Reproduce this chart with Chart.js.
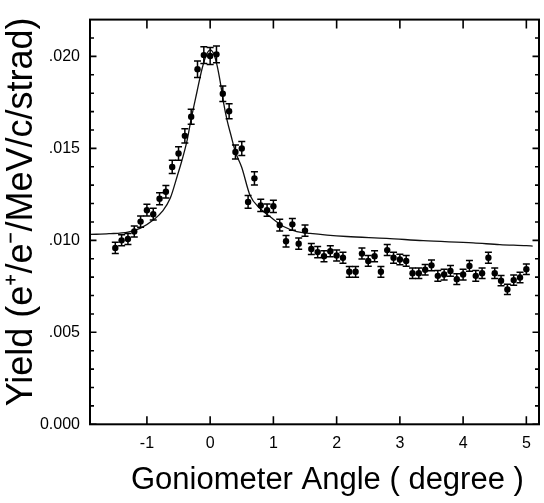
<!DOCTYPE html>
<html>
<head>
<meta charset="utf-8">
<script src="https://cdn.jsdelivr.net/npm/chart.js@4/dist/chart.umd.min.js"></script>
<style>
html,body{margin:0;padding:0;background:#fff;}
#wrap{width:544px;height:503px;position:relative;}
</style>
</head>
<body>
<div id="wrap"><canvas id="c"></canvas></div>
<script>
// Measured data points (goniometer angle in degrees, yield)
const angles = [-1.5,-1.4,-1.3,-1.2,-1.1,-1.0,-0.9,-0.8,-0.7,-0.6,-0.5,-0.4,-0.3,-0.2,-0.1,0.0,0.1,0.2,0.3,0.4,0.5,
  0.6,0.7,0.8,0.9,1.0,1.1,1.2,1.3,1.4,1.5,1.6,1.7,1.8,1.9,2.0,2.1,2.2,2.3,2.4,2.5,2.6,2.7,2.8,2.9,
  3.0,3.1,3.2,3.3,3.4,3.5,3.6,3.7,3.8,3.9,4.0,4.1,4.2,4.3,4.4,4.5,4.6,4.7,4.8,4.9,5.0];
const yields = [0.00959,0.01000,0.01007,0.01048,0.01102,0.01164,0.01142,0.01226,0.01264,0.01399,0.01472,0.01568,0.01672,0.01930,0.02007,0.02002,0.02011,0.01797,0.01702,0.01480,0.01499,
  0.01209,0.01337,0.01190,0.01164,0.01185,0.01083,0.00995,0.01087,0.00982,0.01053,0.00953,0.00936,0.00914,0.00941,0.00918,0.00905,0.00829,0.00829,0.00928,0.00888,0.00914,0.00829,0.00947,0.00905,
  0.00896,0.00888,0.00821,0.00821,0.00840,0.00864,0.00807,0.00814,0.00834,0.00789,0.00814,0.00861,0.00807,0.00821,0.00905,0.00821,0.00781,0.00733,0.00784,0.00798,0.00843];
const yieldErr = [0.00030,0.00030,0.00030,0.00030,0.00031,0.00032,0.00032,0.00033,0.00034,0.00036,0.00037,0.00039,0.00041,0.00045,0.00046,0.00046,0.00046,0.00042,0.00041,0.00038,0.00038,
  0.00035,0.00036,0.00033,0.00033,0.00033,0.00032,0.00031,0.00032,0.00031,0.00031,0.00030,0.00030,0.00030,0.00030,0.00030,0.00030,0.00029,0.00029,0.00030,0.00029,0.00030,0.00029,0.00030,0.00030,
  0.00029,0.00029,0.00029,0.00029,0.00029,0.00029,0.00029,0.00029,0.00029,0.00029,0.00029,0.00029,0.00029,0.00029,0.00030,0.00029,0.00028,0.00028,0.00028,0.00028,0.00029];

// Fitted curve
const fitAngles = [-1.9,-1.6,-1.3,-1.1,-0.9,-0.75,-0.63,-0.52,-0.45,-0.37,-0.3,-0.21,-0.13,-0.07,0.0,0.06,0.11,0.16,0.21,0.27,0.33,0.4,0.5,0.63,0.79,0.95,1.16,1.37,1.58,2.16,2.79,3.37,4.16,4.58,5.0,5.1];
const fitYields = [0.01032,0.01036,0.01045,0.01066,0.01110,0.01160,0.01230,0.01350,0.01430,0.01535,0.01660,0.01805,0.01930,0.02000,0.02035,0.02010,0.01950,0.01860,0.01752,0.01650,0.01570,0.01480,0.01396,0.01245,0.01173,0.01128,0.01075,0.01048,0.01038,0.01021,0.01011,0.00998,0.00986,0.00977,0.00971,0.00969];

// Axis ticks
const xTickValues = [-1,0,1,2,3,4,5];
const xTickLabels = ['-1','0','1','2','3','4','5'];
const yTickValues = [0,0.005,0.010,0.015,0.020];
const yTickLabels = ['0.000','.005','.010','.015','.020'];

const X_MIN = -1.9, X_MAX = 5.2, Y_MIN = 0, Y_MAX = 0.022;

const errorBars = {
  id: 'errorBars',
  afterDatasetsDraw(chart) {
    const {ctx, scales: {x, y}} = chart;
    ctx.save();
    ctx.strokeStyle = '#000';
    ctx.lineWidth = 1.5;
    for (let i = 0; i < angles.length; i++) {
      const px = x.getPixelForValue(angles[i]);
      const top = y.getPixelForValue(yields[i] + yieldErr[i]);
      const bot = y.getPixelForValue(yields[i] - yieldErr[i]);
      ctx.beginPath();
      ctx.moveTo(px, top); ctx.lineTo(px, bot);
      ctx.moveTo(px - 3.5, top); ctx.lineTo(px + 3.5, top);
      ctx.moveTo(px - 3.5, bot); ctx.lineTo(px + 3.5, bot);
      ctx.stroke();
    }
    ctx.restore();
  }
};

const frame = {
  id: 'frame',
  afterDraw(chart) {
    const {ctx, chartArea: a, scales: {x, y}} = chart;
    ctx.save();
    ctx.strokeStyle = '#000';
    ctx.lineWidth = 1.6;
    ctx.beginPath();
    xTickValues.forEach(v => {
      const px = x.getPixelForValue(v);
      ctx.moveTo(px, a.bottom); ctx.lineTo(px, a.bottom - 8);
      ctx.moveTo(px, a.top); ctx.lineTo(px, a.top + 9);
    });
    for (let k = 0; k <= 21; k++) {
      const v = k / 1000;
      const major = k % 5 === 0;
      const len = major ? 6.5 : 4;
      const py = y.getPixelForValue(v);
      ctx.moveTo(a.left, py); ctx.lineTo(a.left + len, py);
      ctx.moveTo(a.right, py); ctx.lineTo(a.right - len, py);
    }
    ctx.stroke();
    ctx.lineWidth = 2;
    ctx.strokeRect(a.left, a.top, a.right - a.left, a.bottom - a.top);
    ctx.restore();
  }
};

new Chart(document.getElementById('c'), {
  type: 'scatter',
  data: {
    datasets: [
      {
        label: 'data',
        data: angles.map((a, i) => ({x: a, y: yields[i]})),
        pointRadius: 3.2,
        pointBackgroundColor: '#000',
        pointBorderColor: '#000',
        pointBorderWidth: 0,
        showLine: false
      },
      {
        label: 'fit',
        type: 'line',
        data: fitAngles.map((a, i) => ({x: a, y: fitYields[i]})),
        borderColor: '#111',
        borderWidth: 1.3,
        pointRadius: 0,
        fill: false,
        cubicInterpolationMode: 'monotone'
      }
    ]
  },
  options: {
    responsive: true,
    maintainAspectRatio: false,
    animation: false,
    devicePixelRatio: 1,
    layout: {padding: {left: 0, right: 5, top: 12.7, bottom: 0}},
    plugins: {legend: {display: false}, tooltip: {enabled: false}},
    scales: {
      x: {
        type: 'linear',
        min: X_MIN, max: X_MAX,
        grid: {display: false, drawTicks: false},
        border: {display: false},
        afterBuildTicks: s => { s.ticks = xTickValues.map(v => ({value: v})); },
        afterFit: s => { s.height = 78.7; },
        ticks: {
          color: '#000',
          padding: 10,
          maxRotation: 0,
          autoSkip: false,
          font: {family: "'Liberation Sans Narrow','Liberation Sans',Arial,sans-serif", size: 16},
          callback: (v) => { const i = xTickValues.indexOf(v); return i >= 0 ? xTickLabels[i] : ''; }
        },
        title: {
          display: true,
          text: '   Goniometer Angle ( degree )',
          color: '#000',
          font: {family: "'Liberation Sans',Arial,sans-serif", size: 31},
          padding: {top: 0, bottom: 4}
        }
      },
      y: {
        type: 'linear',
        min: Y_MIN, max: Y_MAX,
        grid: {display: false, drawTicks: false},
        border: {display: false},
        afterBuildTicks: s => { s.ticks = yTickValues.map(v => ({value: v})); },
        afterFit: s => { s.width = 90; },
        ticks: {
          color: '#000',
          padding: 10,
          autoSkip: false,
          font: {family: "'Liberation Sans Narrow','Liberation Sans',Arial,sans-serif", size: 16},
          callback: (v) => { const i = yTickValues.findIndex(t => Math.abs(t - v) < 1e-9); return i >= 0 ? yTickLabels[i] : ''; }
        },
        title: {
          display: true,
          text: '  Yield (e\u207A/e\u207B/MeV/c/strad)',
          color: '#000',
          font: {family: "'Liberation Sans',Arial,sans-serif", size: 36},
          padding: {top: 0, bottom: 0}
        }
      }
    }
  },
  plugins: [errorBars, frame]
});
</script>
</body>
</html>
